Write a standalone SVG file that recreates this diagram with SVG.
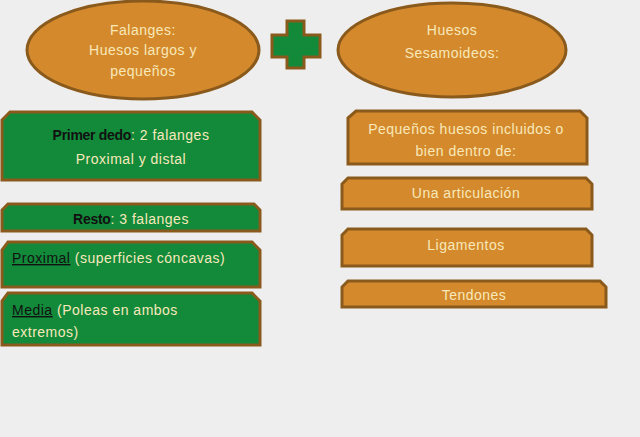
<svg xmlns="http://www.w3.org/2000/svg" width="640" height="437" viewBox="0 0 640 437">
<style>
.or{fill:#D48A2C;stroke:#8A5A1C;stroke-width:3}
.gr{fill:#128A3A;stroke:#8A5A1C;stroke-width:3}
text{font-family:"Liberation Sans","DejaVu Sans",sans-serif;font-size:14px;fill:#F8E8BA;letter-spacing:0.5px}
.c{text-anchor:middle}
.k{fill:#111;font-weight:bold;letter-spacing:-0.3px}
.u{fill:#111;text-decoration:underline}
</style>
<rect width="640" height="437" fill="#EEEEEE"/>
<g id="falanges"><ellipse class="or" cx="143" cy="50" rx="116" ry="49"/>
<text class="c" x="143" y="35">Falanges:</text><text class="c" x="143" y="55">Huesos largos y</text><text class="c" x="143" y="76">pequeños</text></g>
<g id="plus"><path d="M287 21H304V35H320V57H304V68H287V57H272V35H287Z" fill="#128A3A" stroke="#8A5A1C" stroke-width="3"/></g>
<g id="sesamoideos"><ellipse class="or" cx="452" cy="50" rx="114" ry="47"/>
<text class="c" x="452" y="35">Huesos</text><text class="c" x="452" y="58">Sesamoideos:</text></g>
<g id="primer"><path class="gr" d="M10 112H252L260 120V180H2V120Z"/>
<text class="c" x="131" y="140"><tspan class="k">Primer dedo</tspan>: 2 falanges</text><text class="c" x="131" y="164">Proximal y distal</text></g>
<g id="resto"><path class="gr" d="M8 204H254L260 210V231H2V210Z"/>
<text class="c" x="131" y="224"><tspan class="k">Resto</tspan>: 3 falanges</text></g>
<g id="proximal"><path class="gr" d="M8 242H252L260 250V287H2V250Z"/>
<text x="12" y="263"><tspan class="u">Proximal</tspan> (superficies cóncavas)</text></g>
<g id="media"><path class="gr" d="M8 293H252L260 301V345H2V301Z"/>
<text x="12" y="315"><tspan class="u">Media</tspan> (Poleas en ambos</text><text x="12" y="337">extremos)</text></g>
<g id="pequenos"><path class="or" d="M356 111H580L587 118V164H348V118Z"/>
<text class="c" x="466" y="134">Pequeños huesos incluidos o</text><text class="c" x="466" y="156">bien dentro de:</text></g>
<g id="articulacion"><path class="or" d="M348 178H586L592 184V209H342V184Z"/>
<text class="c" x="466" y="198">Una articulación</text></g>
<g id="ligamentos"><path class="or" d="M348 229H586L592 235V266H342V235Z"/>
<text class="c" x="466" y="250">Ligamentos</text></g>
<g id="tendones"><path class="or" d="M348 281H600L606 287V307H342V287Z"/>
<text class="c" x="474" y="300">Tendones</text></g>
<g id="connectors"></g>
</svg>
